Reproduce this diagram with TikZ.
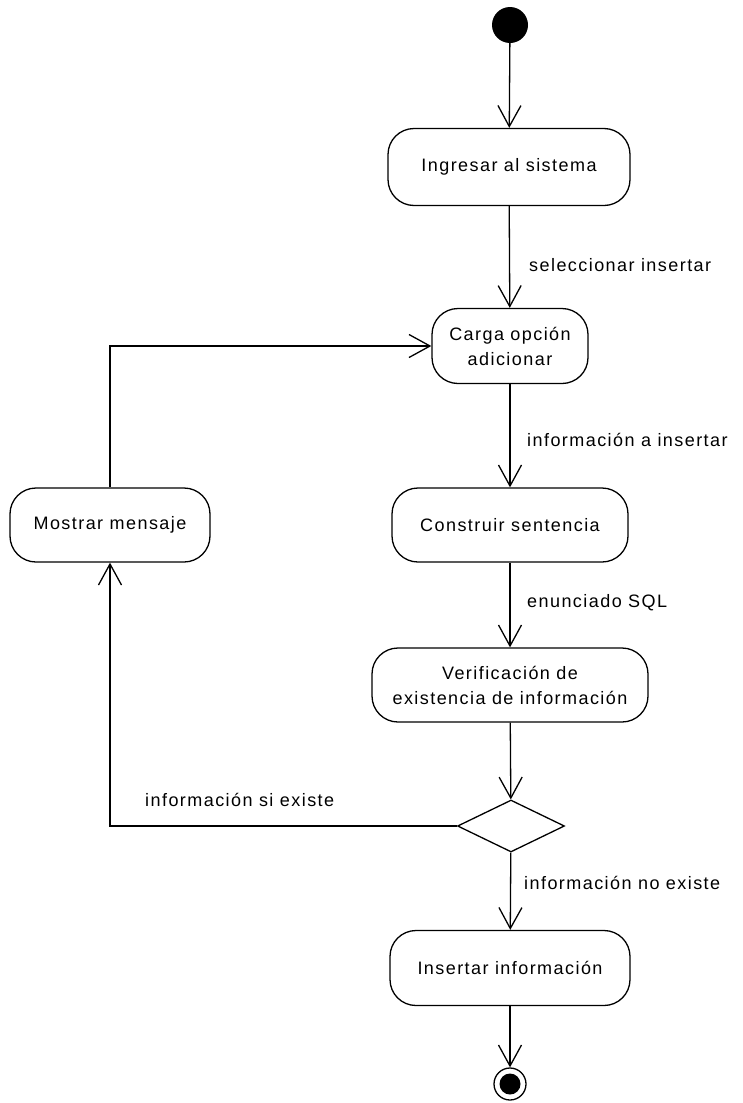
\documentclass[tikz,border=0pt]{standalone}
\usepackage{fontspec}
\setmainfont{Liberation Sans}[LetterSpace=8]
\usetikzlibrary{arrows.meta,shapes.geometric,positioning}
\begin{document}
\begin{tikzpicture}[x=1pt,y=1pt,
  every node/.style={font=\fontsize{18}{25}\selectfont},
  act/.style={draw, line width=1.3pt, rounded corners=26pt, align=center, inner sep=0pt},
  flow/.style={draw, line width=1.3pt, -{Straight Barb[length=21pt,width=23pt,line width=1.3pt]}},
  lbl/.style={anchor=west, inner sep=0pt}
]
\useasboundingbox (0,0) rectangle (742,-1103);

% start and end states
\node (start) [circle, fill=black, minimum size=36pt, inner sep=0pt] at (510,-25) {};
\node (endout) [circle, draw, line width=1.3pt, minimum size=32pt, inner sep=0pt] at (510,-1084) {};
\node (endin) [circle, fill=black, minimum size=21pt, inner sep=0pt] at (510,-1084) {};

% activities
\node (ingresar) [act, minimum width=242pt, minimum height=77pt] at (509,-167) {Ingresar al sistema};
\node (carga) [act, minimum width=156pt, minimum height=75pt] at (510,-346) {Carga opción\\adicionar};
\node (construir) [act, minimum width=236pt, minimum height=74pt] at (510,-525) {Construir sentencia};
\node (verif) [act, minimum width=276pt, minimum height=74pt] at (510,-685) {Verificación de\\existencia de información};
\node (insertar) [act, minimum width=240pt, minimum height=75pt] at (510,-968) {Insertar información};
\node (mostrar) [act, minimum width=200pt, minimum height=74pt] at (110,-525) {Mostrar mensaje};

% decision
\node (dec) [diamond, draw, line width=1.3pt, minimum width=107pt, minimum height=52pt, inner sep=0pt, aspect=2] at (511,-826) {};

% transitions
\draw[flow] (start) -- (ingresar);
\draw[flow] (ingresar) -- (carga);
\draw[flow] (carga) -- (construir);
\draw[flow] (construir) -- (verif);
\draw[flow] (verif) -- (dec);
\draw[flow] (dec) -- (insertar);
\draw[flow] (insertar) -- (endout);
\coordinate (corner1) at (110,-826);
\draw[flow] (dec.west) -- (corner1) -- (mostrar.south);
\draw[flow] (mostrar.north) |- (carga.west);

% guard labels
\node (l1) [lbl] at (529,-265) {seleccionar insertar};
\node (l2) [lbl] at (527,-440) {información a insertar};
\node (l3) [lbl] at (527,-603) {enunciado SQL};
\node (l4) [lbl] at (524,-883) {información no existe};
\node (l5) [lbl] at (145,-800) {información si existe};
\end{tikzpicture}
\end{document}
